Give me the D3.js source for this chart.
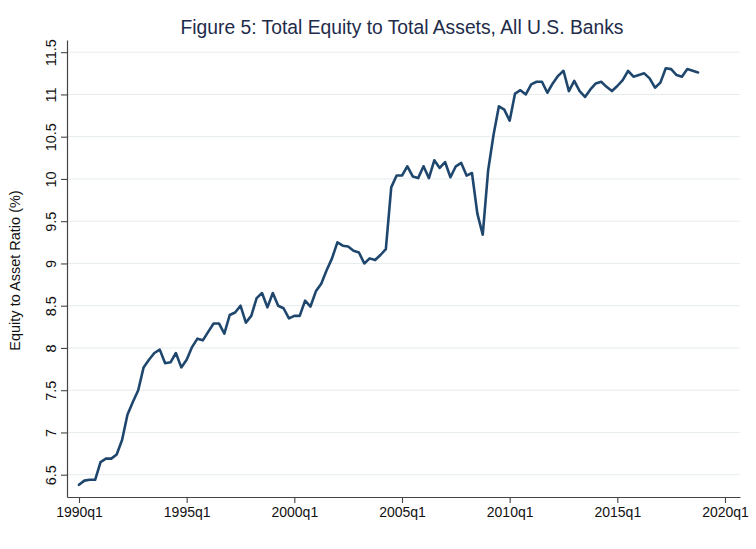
<!DOCTYPE html>
<html>
<head>
<meta charset="utf-8">
<script src="https://cdn.jsdelivr.net/npm/d3@7"></script>
<style>
  html, body { margin: 0; padding: 0; background: #fff; }
  svg { display: block; font-family: "Liberation Sans", Arial, Helvetica, sans-serif; }
</style>
</head>
<body>
<svg id="chart" width="756" height="549"></svg>
<script>
// ---- Data (quarterly, starting 1990q1) ----
const startYear = 1990;
const ratioValues = [
  6.38, 6.43, 6.44, 6.44, 6.65, 6.69, 6.69, 6.74, 6.91, 7.21,
  7.36, 7.50, 7.77, 7.86, 7.94, 7.98, 7.82, 7.83, 7.94, 7.77,
  7.86, 8.01, 8.11, 8.09, 8.19, 8.29, 8.29, 8.17, 8.39, 8.42,
  8.50, 8.30, 8.38, 8.59, 8.65, 8.48, 8.65, 8.50, 8.47, 8.35,
  8.38, 8.38, 8.56, 8.49, 8.67, 8.76, 8.92, 9.06, 9.25, 9.21,
  9.20, 9.15, 9.13, 9.00, 9.06, 9.04, 9.10, 9.17, 9.90, 10.04,
  10.04, 10.15, 10.03, 10.01, 10.15, 10.01, 10.22, 10.13, 10.20, 10.02,
  10.15, 10.19, 10.04, 10.07, 9.59, 9.34, 10.10, 10.52, 10.86, 10.82,
  10.69, 11.01, 11.05, 11.00, 11.12, 11.15, 11.15, 11.02, 11.13, 11.22,
  11.28, 11.04, 11.16, 11.04, 10.97, 11.06, 11.13, 11.15, 11.09, 11.04,
  11.10, 11.17, 11.28, 11.21, 11.23, 11.25, 11.19, 11.08, 11.14, 11.31,
  11.30, 11.23, 11.21, 11.30, 11.28, 11.26
];
const xTickYears = [1990, 1995, 2000, 2005, 2010, 2015, 2020];
const xTickLabels = ["1990q1", "1995q1", "2000q1", "2005q1", "2010q1", "2015q1", "2020q1"];
const yTicks = [6.5, 7, 7.5, 8, 8.5, 9, 9.5, 10, 10.5, 11, 11.5];
const yTickLabels = ["6.5", "7", "7.5", "8", "8.5", "9", "9.5", "10", "10.5", "11", "11.5"];
const titleText = "Figure 5: Total Equity to Total Assets, All U.S. Banks";
const yTitleText = "Equity to Asset Ratio (%)";

const data = ratioValues.map((v, i) => ({ t: startYear + i / 4, v }));

// ---- Layout ----
const svg = d3.select("#chart");
const plotLeft = 67, plotRight = 740, plotTop = 40, plotBottom = 497;
const pxPerYear = 21.533;
const pxPerUnit = 84.5;
const x0 = 79, y65 = 474.7;

const x = d3.scaleLinear()
  .domain([1990 - (x0 - plotLeft) / pxPerYear, 1990 + (plotRight - x0) / pxPerYear])
  .range([plotLeft, plotRight]);
const y = d3.scaleLinear()
  .domain([6.5 - (plotBottom - y65) / pxPerUnit, 6.5 + (y65 - plotTop) / pxPerUnit])
  .range([plotBottom, plotTop]);

// gridlines
svg.append("g").selectAll("line").data(yTicks).join("line")
  .attr("x1", plotLeft).attr("x2", plotRight)
  .attr("y1", d => y(d)).attr("y2", d => y(d))
  .attr("stroke", "#e6ecef").attr("stroke-width", 1);

// x axis
const xAxis = d3.axisBottom(x)
  .tickValues(xTickYears)
  .tickFormat((d, i) => xTickLabels[i])
  .tickSize(6).tickPadding(4).tickSizeOuter(0);
const gx = svg.append("g").attr("transform", `translate(0,${plotBottom})`).call(xAxis);
gx.select(".domain").attr("stroke", "#444").attr("stroke-width", 1.2);
gx.selectAll(".tick line").attr("stroke", "#444").attr("stroke-width", 1.1);
gx.selectAll(".tick text").attr("font-size", 14).attr("fill", "#111")
  .attr("font-family", "Liberation Sans, Arial, sans-serif");

// y axis
const yAxis = d3.axisLeft(y)
  .tickValues(yTicks)
  .tickFormat((d, i) => yTickLabels[i])
  .tickSize(6).tickSizeOuter(0);
const gy = svg.append("g").attr("transform", `translate(${plotLeft},0)`).call(yAxis);
gy.select(".domain").attr("stroke", "#444").attr("stroke-width", 1.2);
gy.selectAll(".tick line").attr("stroke", "#444").attr("stroke-width", 1.1);
gy.selectAll(".tick text")
  .attr("font-size", 14.5).attr("fill", "#111")
  .attr("font-family", "Liberation Sans, Arial, sans-serif")
  .attr("x", null).attr("dy", null)
  .attr("text-anchor", "middle")
  .attr("transform", "translate(-11,0) rotate(-90)");

// line
const line = d3.line().x(d => x(d.t)).y(d => y(d.v));
svg.append("path").datum(data)
  .attr("d", line)
  .attr("fill", "none")
  .attr("stroke", "#1f476e")
  .attr("stroke-width", 2.6)
  .attr("stroke-linejoin", "round")
  .attr("stroke-linecap", "round");

// title
svg.append("text")
  .attr("x", 402).attr("y", 34)
  .attr("text-anchor", "middle")
  .attr("font-size", 19.3)
  .attr("fill", "#1e2b4a")
  .text(titleText);

// y title
svg.append("text")
  .attr("transform", `translate(20,${(plotTop + plotBottom) / 2 + 2}) rotate(-90)`)
  .attr("text-anchor", "middle")
  .attr("font-size", 14.5)
  .attr("fill", "#111")
  .text(yTitleText);
</script>
</body>
</html>
